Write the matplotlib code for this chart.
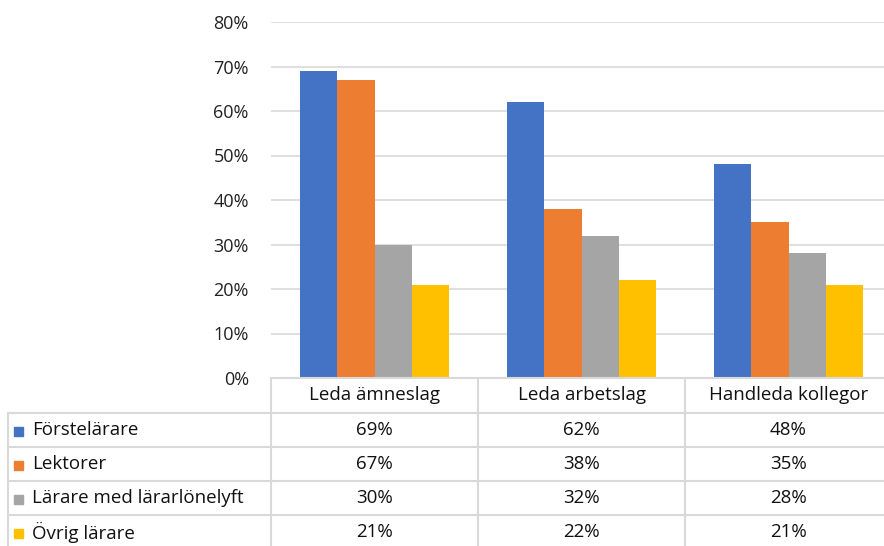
import matplotlib.pyplot as plt
import matplotlib.patches as mpatches
import numpy as np

plt.rcParams["font.family"] = ["Open Sans", "DejaVu Sans"]

categories = ["Leda ämneslag", "Leda arbetslag", "Handleda kollegor"]
series = ["Förstelärare", "Lektorer", "Lärare med lärarlönelyft", "Övrig lärare"]
colors = ["#4472C4", "#ED7D31", "#A5A5A5", "#FFC000"]
forstelarare = [69, 62, 48]
lektorer = [67, 38, 35]
lonelyft = [30, 32, 28]
ovrig = [21, 22, 21]
values = [forstelarare, lektorer, lonelyft, ovrig]
yticks = [0, 10, 20, 30, 40, 50, 60, 70, 80]

W, H = 884, 546
fig = plt.figure(figsize=(W / 100, H / 100), dpi=100)

# plot area in pixels (cropped on the right like the original)
left, right, top, bottom = 271, 892, 22, 378
ax = fig.add_axes([left / W, 1 - bottom / H, (right - left) / W, (bottom - top) / H])

x = np.arange(len(categories))
bw = 0.181
for i, (vals, col) in enumerate(zip(values, colors)):
    ax.bar(x + (i - 1.5) * bw, vals, width=bw, color=col, zorder=3)

ax.set_xlim(-0.5, 2.5)
ax.set_ylim(0, 80)
ax.set_yticks(yticks)
ax.set_yticklabels([f"{t}%" for t in yticks], fontsize=13, color="#222222")
ax.tick_params(axis="y", length=0, pad=16)
ax.set_xticks([])
ax.grid(axis="y", color="#d9d9d9", linewidth=1.2, zorder=0)
for s in ax.spines.values():
    s.set_visible(False)

# data table drawn in pixel space
tb = fig.add_axes([0, 0, 1, 1], zorder=5)
tb.set_xlim(0, W)
tb.set_ylim(H, 0)
tb.axis("off")
tb.patch.set_alpha(0)

line_c = "#d9d9d9"
col_w = (right - left) / 3
row_y = [378, 413, 447, 481, 515, 549]
tleft = 8

# header row
tb.plot([left, W], [row_y[0], row_y[0]], color=line_c, lw=1.5)
for r in range(1, 6):
    tb.plot([tleft, W], [row_y[r], row_y[r]], color=line_c, lw=1.5)
for k in range(3):
    xc = left + k * col_w
    tb.plot([xc, xc], [row_y[0], H], color=line_c, lw=1.5)
tb.plot([tleft, tleft], [row_y[1], H], color=line_c, lw=1.5)

txt_c = "#111111"
fs = 13.5
for k, cat in enumerate(categories):
    tb.text(left + (k + 0.5) * col_w, (row_y[0] + row_y[1]) / 2, cat,
            ha="center", va="center", fontsize=fs, color=txt_c)

for i, name in enumerate(series):
    yc = (row_y[i + 1] + row_y[i + 2]) / 2
    tb.add_patch(mpatches.Rectangle((14, yc - 3), 9, 9, color=colors[i]))
    tb.text(32, yc, name, ha="left", va="center", fontsize=fs, color=txt_c)
    for k in range(3):
        tb.text(left + (k + 0.5) * col_w, yc, f"{values[i][k]}%",
                ha="center", va="center", fontsize=fs, color=txt_c)

fig.savefig("out.png", dpi=100)
